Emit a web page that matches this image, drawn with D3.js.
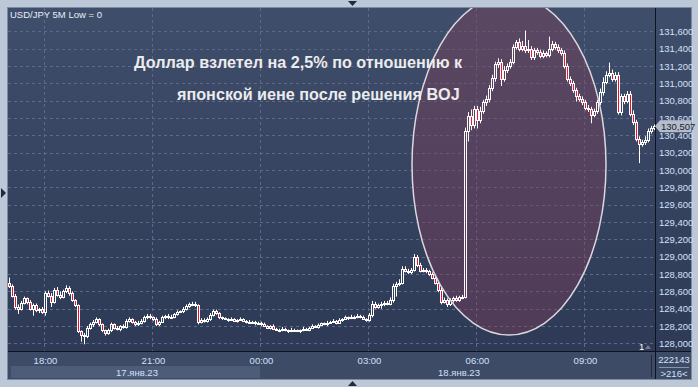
<!DOCTYPE html>
<html lang="ru">
<head>
<meta charset="UTF-8"/>
<title>USD/JPY 5M</title>
<script src="https://d3js.org/d3.v7.min.js"></script>
<style>
	body { margin: 0; background: #bcc7d7; }
	svg { display: block; }
	text { font-family: "Liberation Sans", Arial, sans-serif; }
</style>
</head>
<body>
<script>
	//Chart size and plot box
	var w = 698;
	var h = 387;
	var plotL = 8, plotR = 655, plotT = 8, plotB = 351;

	//5 minute closes, 17.01 17:00 -> 18.01 10:55, one row per hour
	var firstOpen = 128.70;
	var closes = [
		128.66,128.55,128.42,128.40,128.47,128.52,128.48,128.40,128.44,128.38,128.40,128.36,
		128.58,128.55,128.48,128.62,128.56,128.54,128.60,128.64,128.58,128.50,128.44,128.14,
		128.10,128.08,128.18,128.22,128.25,128.28,128.22,128.15,128.12,128.15,128.22,128.18,
		128.17,128.20,128.19,128.26,128.28,128.25,128.22,128.24,128.26,128.30,128.32,128.30,
		128.28,128.22,128.25,128.30,128.32,128.30,128.31,128.34,128.36,128.37,128.40,128.43,
		128.45,128.46,128.44,128.25,128.27,128.26,128.28,128.33,128.37,128.35,128.30,128.29,
		128.28,128.27,128.28,128.26,128.27,128.28,128.26,128.25,128.24,128.25,128.23,128.24,
		128.22,128.20,128.18,128.20,128.17,128.16,128.15,128.17,128.15,128.14,128.16,128.15,
		128.14,128.15,128.17,128.16,128.18,128.20,128.19,128.21,128.23,128.22,128.24,128.25,
		128.26,128.24,128.27,128.28,128.30,128.29,128.31,128.30,128.32,128.31,128.28,128.27,
		128.33,128.46,128.42,128.44,128.45,128.47,128.46,128.50,128.66,128.68,128.70,128.86,
		128.84,128.82,128.85,129.00,128.90,128.84,128.85,128.83,128.80,128.76,128.70,128.62,
		128.48,128.50,128.45,128.50,128.52,128.50,128.53,128.54,130.45,130.62,130.52,130.70,
		130.58,130.68,130.78,130.82,130.95,131.06,131.22,131.25,131.05,131.15,131.20,131.25,
		131.42,131.48,131.40,131.43,131.38,131.40,131.30,131.38,131.36,131.32,131.35,131.33,
		131.40,131.45,131.42,131.38,131.35,131.20,131.05,131.00,130.92,130.85,130.82,130.78,
		130.72,130.70,130.64,130.68,130.78,130.90,131.02,131.10,131.12,131.05,131.10,130.67,
		130.85,130.80,130.88,130.65,130.55,130.36,130.30,130.32,130.35,130.45,130.48,130.507
	];
	//wick length above / below the body, in 0.01
	var upWick = [
		6,2,2,3,2,2,1,2,2,2,1,2,
		2,3,3,2,3,4,2,3,2,2,1,1,
		1,2,2,2,2,2,1,1,1,2,2,1,
		2,1,2,2,2,1,1,2,2,2,2,2,
		1,2,1,2,1,2,2,1,2,1,2,2,
		2,2,2,1,2,2,2,2,2,2,1,1,
		1,1,2,1,1,2,1,1,2,1,1,1,
		1,2,1,1,2,1,1,2,1,1,2,1,
		1,1,2,1,1,2,1,2,1,1,2,1,
		2,1,2,1,2,1,2,1,2,1,1,1,
		2,3,2,2,3,2,2,3,3,3,4,3,
		3,2,2,3,2,3,2,2,2,2,2,2,
		2,3,2,2,2,3,2,2,4,5,8,4,
		4,5,3,4,3,4,3,4,3,5,3,3,
		3,2,4,6,18,10,3,3,3,3,3,2,
		14,4,3,3,3,3,3,3,3,3,3,3,
		3,3,3,3,3,4,5,4,12,4,3,3,
		3,3,3,3,4,3,3,3,4,3,3,2
	];
	var dnWick = [
		2,2,3,6,2,2,3,2,8,2,3,2,
		4,2,6,2,2,3,2,2,3,2,2,2,
		8,9,2,2,3,2,2,2,3,2,2,2,
		2,3,2,2,2,2,2,2,2,2,2,2,
		2,2,2,1,2,2,1,2,2,1,2,2,
		2,2,2,3,2,2,2,2,2,2,2,2,
		1,2,1,1,2,1,1,2,1,1,2,1,
		2,1,1,2,1,1,2,1,1,2,1,1,
		1,2,1,1,2,1,1,2,1,1,2,1,
		1,2,1,2,1,2,1,2,1,2,1,2,
		2,3,2,2,4,2,2,2,3,12,2,2,
		2,2,2,2,2,2,2,2,2,2,2,3,
		3,2,3,2,3,2,2,2,2,12,6,4,
		10,4,3,4,4,4,4,4,8,3,3,3,
		3,3,3,3,3,3,3,3,3,3,3,3,
		3,3,3,3,3,3,3,3,3,6,3,3,
		3,3,10,3,3,3,4,3,3,3,3,3,
		4,4,3,3,3,3,22,3,3,3,3,2
	];

	var priceTicks = [128.0,128.2,128.4,128.6,128.8,129.0,129.2,129.4,129.6,129.8,
	                  130.0,130.2,130.4,130.6,130.8,131.0,131.2,131.4,131.6];
	var timeIdx = [12, 48, 84, 120, 156, 192];
	var timeLabels = ["18:00", "21:00", "00:00", "03:00", "06:00", "09:00"];
	var dateLabels = ["17.янв.23", "18.янв.23"];
	var lastPrice = 130.507;

	var candles = closes.map(function(c, i) {
		var o = i == 0 ? firstOpen : closes[i - 1];	//gapless 5M bars
		return {i: i, o: o, c: c,
			hi: Math.max(o, c) + upWick[i] / 100,
			lo: Math.min(o, c) - dnWick[i] / 100};
	});

	//Scales: 3px per bar
	var xScale = d3.scaleLinear().domain([0, 216]).range([plotL, plotL + 648]);
	var yScale = d3.scaleLinear().domain([128, 131.6]).range([343.4, 31.4]);
	var fmt = function(v) { return d3.format(",")(Math.round(v * 1000)); };

	var svg = d3.select("body").append("svg")
		.attr("width", w)
		.attr("height", h);

	var defs = svg.append("defs");
	var grad = defs.append("linearGradient").attr("id", "bg")
		.attr("x1", 0).attr("y1", 0).attr("x2", 0).attr("y2", 1);
	grad.append("stop").attr("offset", "0%").attr("stop-color", "#3f4e6b");
	grad.append("stop").attr("offset", "100%").attr("stop-color", "#2c3854");
	defs.append("clipPath").attr("id", "plotclip")
		.append("rect").attr("x", plotL).attr("y", plotT)
		.attr("width", plotR - plotL).attr("height", plotB - plotT);

	//panel
	svg.append("rect").attr("x", 7.5).attr("y", 7.5).attr("width", 684).attr("height", 372)
		.attr("fill", "url(#bg)").attr("stroke", "#7d8aa0");
	svg.append("rect").attr("x", 8).attr("y", 352).attr("width", 683).attr("height", 27)
		.attr("fill", "#3d4b67");
	svg.append("rect").attr("x", 11).attr("y", 366).attr("width", 249).attr("height", 12)
		.attr("fill", "#4c5c79");

	var plot = svg.append("g").attr("clip-path", "url(#plotclip)");

	//grid
	plot.selectAll(".hgrid").data(priceTicks).enter().append("line")
		.attr("x1", plotL).attr("x2", plotR)
		.attr("y1", function(d) { return Math.round(yScale(d)) + 0.5; })
		.attr("y2", function(d) { return Math.round(yScale(d)) + 0.5; })
		.attr("stroke", "#5a6a88").attr("stroke-dasharray", "3,3");
	plot.selectAll(".vgrid").data(timeIdx).enter().append("line")
		.attr("x1", function(d) { return xScale(d) + 0.5; })
		.attr("x2", function(d) { return xScale(d) + 0.5; })
		.attr("y1", plotT).attr("y2", plotB)
		.attr("stroke", "#5a6a88").attr("stroke-dasharray", "3,3");

	//highlight ellipse (fill under the bars)
	var ell = {cx: 509, cy: 165, rx: 97, ry: 170};
	plot.append("ellipse").attr("cx", ell.cx).attr("cy", ell.cy)
		.attr("rx", ell.rx).attr("ry", ell.ry)
		.attr("fill", "rgb(100,38,72)").attr("fill-opacity", 0.36);

	//candles
	var yTop = function(d) { return Math.round(yScale(Math.max(d.o, d.c))) + 0.5; };
	var yBot = function(d) { return Math.max(Math.round(yScale(Math.min(d.o, d.c))) + 0.5, yTop(d) + 1); };
	var xMid = function(d) { return xScale(d.i) + 1.5; };

	var bars = plot.selectAll(".bar").data(candles).enter().append("g");
	bars.append("line")
		.attr("x1", xMid).attr("x2", xMid)
		.attr("y1", function(d) { return yScale(d.hi); })
		.attr("y2", yTop)
		.attr("stroke", "#ffffff");
	bars.append("line")
		.attr("x1", xMid).attr("x2", xMid)
		.attr("y1", yBot)
		.attr("y2", function(d) { return yScale(d.lo); })
		.attr("stroke", "#ffffff");
	bars.append("rect")
		.attr("x", function(d) { return xScale(d.i) + 0.5; })
		.attr("y", yTop)
		.attr("width", 2)
		.attr("height", function(d) { return yBot(d) - yTop(d); })
		.attr("fill", function(d) { return d.c < d.o ? "#e8102c" : "none"; })
		.attr("stroke", "#ffffff");

	//tint and outline of the ellipse
	plot.append("ellipse").attr("cx", ell.cx).attr("cy", ell.cy)
		.attr("rx", ell.rx).attr("ry", ell.ry)
		.attr("fill", "rgb(255,170,170)").attr("fill-opacity", 0.08)
		.attr("stroke", "#dcd6de").attr("stroke-width", 1.5);

	//frame lines of the axes
	svg.append("line").attr("x1", 8).attr("x2", 691).attr("y1", 351.5).attr("y2", 351.5)
		.attr("stroke", "#0d1420");
	svg.append("line").attr("x1", 655.5).attr("x2", 655.5).attr("y1", 8).attr("y2", 379)
		.attr("stroke", "#0d1420");

	//price axis
	var yAxis = d3.axisRight(yScale).tickValues(priceTicks).tickSize(0).tickPadding(4)
		.tickFormat(fmt);
	var ya = svg.append("g").attr("transform", "translate(655, 0)").call(yAxis);
	ya.select(".domain").remove();
	ya.selectAll("text").attr("fill", "#d3e0fa").style("font-size", "9.5px")
		.style("font-family", "'Liberation Sans', Arial, sans-serif");

	//time axis
	var xAxis = d3.axisBottom(xScale).tickValues(timeIdx).tickSize(0).tickPadding(6)
		.tickFormat(function(d, i) { return timeLabels[i]; });
	var xa = svg.append("g").attr("transform", "translate(1, 351)").call(xAxis);
	xa.select(".domain").remove();
	xa.selectAll("text").attr("fill", "#d3e0fa").style("font-size", "9.5px")
		.style("font-family", "'Liberation Sans', Arial, sans-serif");

	svg.selectAll(".date").data(dateLabels).enter().append("text")
		.attr("x", function(d, i) { return i == 0 ? 137 : 459; })
		.attr("y", 375.5)
		.attr("text-anchor", "middle")
		.attr("fill", "#d3e0fa").style("font-size", "9.5px")
		.text(function(d) { return d; });

	//last price tag
	var ly = yScale(lastPrice);
	svg.append("polygon")
		.attr("points", [[655, ly], [660, ly - 6], [691, ly - 6], [691, ly + 6], [660, ly + 6]].join(" "))
		.attr("fill", "#b5bdcb");
	svg.append("text").attr("x", 661).attr("y", ly + 3.5)
		.attr("fill", "#1b2233").style("font-size", "9.5px")
		.text(fmt(lastPrice));

	//bottom right box
	svg.append("line").attr("x1", 651.5).attr("x2", 651.5).attr("y1", 355).attr("y2", 377)
		.attr("stroke", "#222a3a");
	svg.append("text").attr("x", 674).attr("y", 363).attr("text-anchor", "middle")
		.attr("fill", "#d3e0fa").style("font-size", "9.5px").text("222143");
	svg.append("line").attr("x1", 659).attr("x2", 689).attr("y1", 367.5).attr("y2", 367.5)
		.attr("stroke", "#8895aa");
	svg.append("text").attr("x", 674).attr("y", 376.5).attr("text-anchor", "middle")
		.attr("fill", "#d3e0fa").style("font-size", "9.5px").text(">216<");
	svg.append("text").attr("x", 639).attr("y", 349.5)
		.attr("fill", "#ffffff").style("font-size", "9.5px").text("1");
	svg.append("polygon").attr("points", "645,349 651,349 648,345").attr("fill", "#6e7e98");

	//header and caption
	svg.append("text").attr("x", 10).attr("y", 18)
		.attr("fill", "#e8eef8").style("font-size", "9.5px")
		.text("USD/JPY 5M Low = 0");
	svg.append("text").attr("x", 134).attr("y", 68)
		.attr("fill", "#ececec").style("font-size", "16.2px").style("font-weight", "bold")
		.text("Доллар взлетел на 2,5% по отношению к");
	svg.append("text").attr("x", 177).attr("y", 100)
		.attr("fill", "#ececec").style("font-size", "16.2px").style("font-weight", "bold")
		.text("японской иене после решения BOJ");

	//scroll markers
	svg.append("polygon").attr("points", "348,1 357,1 352.5,6").attr("fill", "#1f2a3e");
	svg.append("polygon").attr("points", "348,386 357,386 352.5,381").attr("fill", "#1f2a3e");
	svg.append("polygon").attr("points", "1,188 1,198 6,193").attr("fill", "#1f2a3e");
</script>
</body>
</html>
